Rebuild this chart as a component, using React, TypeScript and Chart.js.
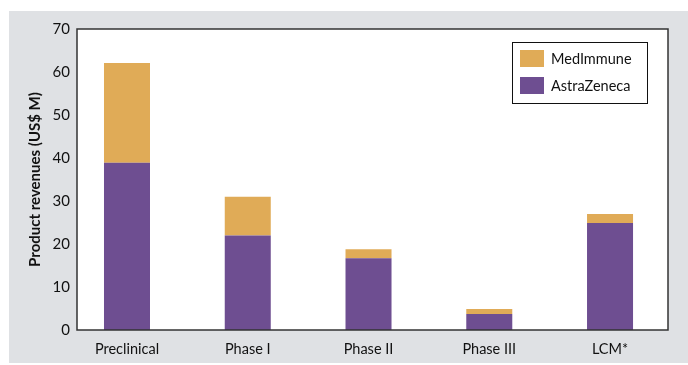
import React, { useEffect, useRef } from "react";
import { Chart, registerables } from "chart.js";

Chart.register(...registerables);

const categories = ["Preclinical", "Phase I", "Phase II", "Phase III", "LCM*"];
const astraZeneca = [38.9, 22, 16.7, 3.7, 24.9];
const medImmune = [23.2, 9, 2.1, 1.2, 2.1];
const yTicks = [0, 10, 20, 30, 40, 50, 60, 70];

const AZ_COLOR = "#6e4e91";
const MI_COLOR = "#e0ab57";
const BG_GRAY = "#dfe1e4";
const FONT = "Lato";

const decorPlugin = {
  id: "decor",
  beforeDraw(chart: any) {
    const { ctx, chartArea } = chart;
    ctx.save();
    ctx.fillStyle = "#ffffff";
    ctx.fillRect(0, 0, chart.width, chart.height);
    ctx.fillStyle = BG_GRAY;
    ctx.fillRect(9, 11, chart.width - 9, 352);
    ctx.fillStyle = "#ffffff";
    ctx.fillRect(chartArea.left, chartArea.top, chartArea.right - chartArea.left, chartArea.bottom - chartArea.top);
    ctx.restore();
  },
  afterDraw(chart: any) {
    const { ctx, chartArea } = chart;
    ctx.save();
    ctx.strokeStyle = "#333333";
    ctx.lineWidth = 1.5;
    ctx.strokeRect(chartArea.left, chartArea.top, chartArea.right - chartArea.left, chartArea.bottom - chartArea.top);
    // legend
    const bx = 512.5, by = 42.5, bw = 135, bh = 61;
    ctx.fillStyle = "#ffffff";
    ctx.fillRect(bx, by, bw, bh);
    ctx.strokeStyle = "#111111";
    ctx.lineWidth = 1;
    ctx.strokeRect(bx, by, bw, bh);
    const items = [...chart.data.datasets].reverse();
    items.forEach((ds: any, i: number) => {
      const y = 50 + i * 27;
      ctx.fillStyle = ds.backgroundColor;
      ctx.fillRect(520, y, 24, 17);
      ctx.fillStyle = "#111111";
      ctx.font = `14.5px ${FONT}`;
      ctx.textBaseline = "middle";
      ctx.textAlign = "left";
      ctx.fillText(ds.label, 551, y + 9);
    });
    ctx.restore();
  },
};

export default function App() {
  const ref = useRef<HTMLCanvasElement | null>(null);
  useEffect(() => {
    document.body.style.margin = "0";
    const canvas = ref.current!;
    const chart = new Chart(canvas, {
      type: "bar",
      data: {
        datasets: [
          {
            label: "AstraZeneca",
            data: astraZeneca.map((v, i) => ({ x: i, y: v })),
            backgroundColor: AZ_COLOR,
            barPercentage: 0.381,
            categoryPercentage: 1,
          },
          {
            label: "MedImmune",
            data: medImmune.map((v, i) => ({ x: i, y: v })),
            backgroundColor: MI_COLOR,
            barPercentage: 0.381,
            categoryPercentage: 1,
          },
        ],
      },
      plugins: [decorPlugin],
      options: {
        responsive: false,
        animation: false,
        layout: { padding: { left: 0, top: 29, right: 20, bottom: 0 } },
        plugins: { legend: { display: false }, tooltip: { enabled: false } },
        scales: {
          x: {
            type: "linear",
            stacked: true,
            offset: false,
            min: -0.414,
            max: 4.48,
            grid: { display: false, drawTicks: false, offset: false },
            border: { display: false },
            afterBuildTicks: (scale: any) => {
              scale.ticks = categories.map((_, i) => ({ value: i }));
            },
            afterFit: (scale: any) => {
              scale.height = 35;
            },
            ticks: {
              autoSkip: false,
              maxRotation: 0,
              padding: 11,
              color: "#111111",
              font: { family: FONT, size: 14.5 },
              callback: (v: any) => categories[Math.round(Number(v))] ?? "",
            },
          },
          y: {
            stacked: true,
            min: 0,
            max: 70,
            afterBuildTicks: (scale: any) => {
              scale.ticks = yTicks.map((v) => ({ value: v }));
            },
            afterFit: (scale: any) => {
              scale.width = 77;
            },
            grid: { display: false, drawTicks: false },
            border: { display: false },
            ticks: {
              padding: 7,
              color: "#111111",
              font: { family: FONT, size: 15 },
            },
            title: {
              display: true,
              text: "Product revenues (US$ M)",
              color: "#111111",
              font: { family: FONT, size: 15, weight: "bold" },
              padding: { top: 26, bottom: 0 },
            },
          },
        },
      },
    } as any);
    return () => chart.destroy();
  }, []);
  return <canvas ref={ref} width={688} height={365} style={{ display: "block" }} />;
}
